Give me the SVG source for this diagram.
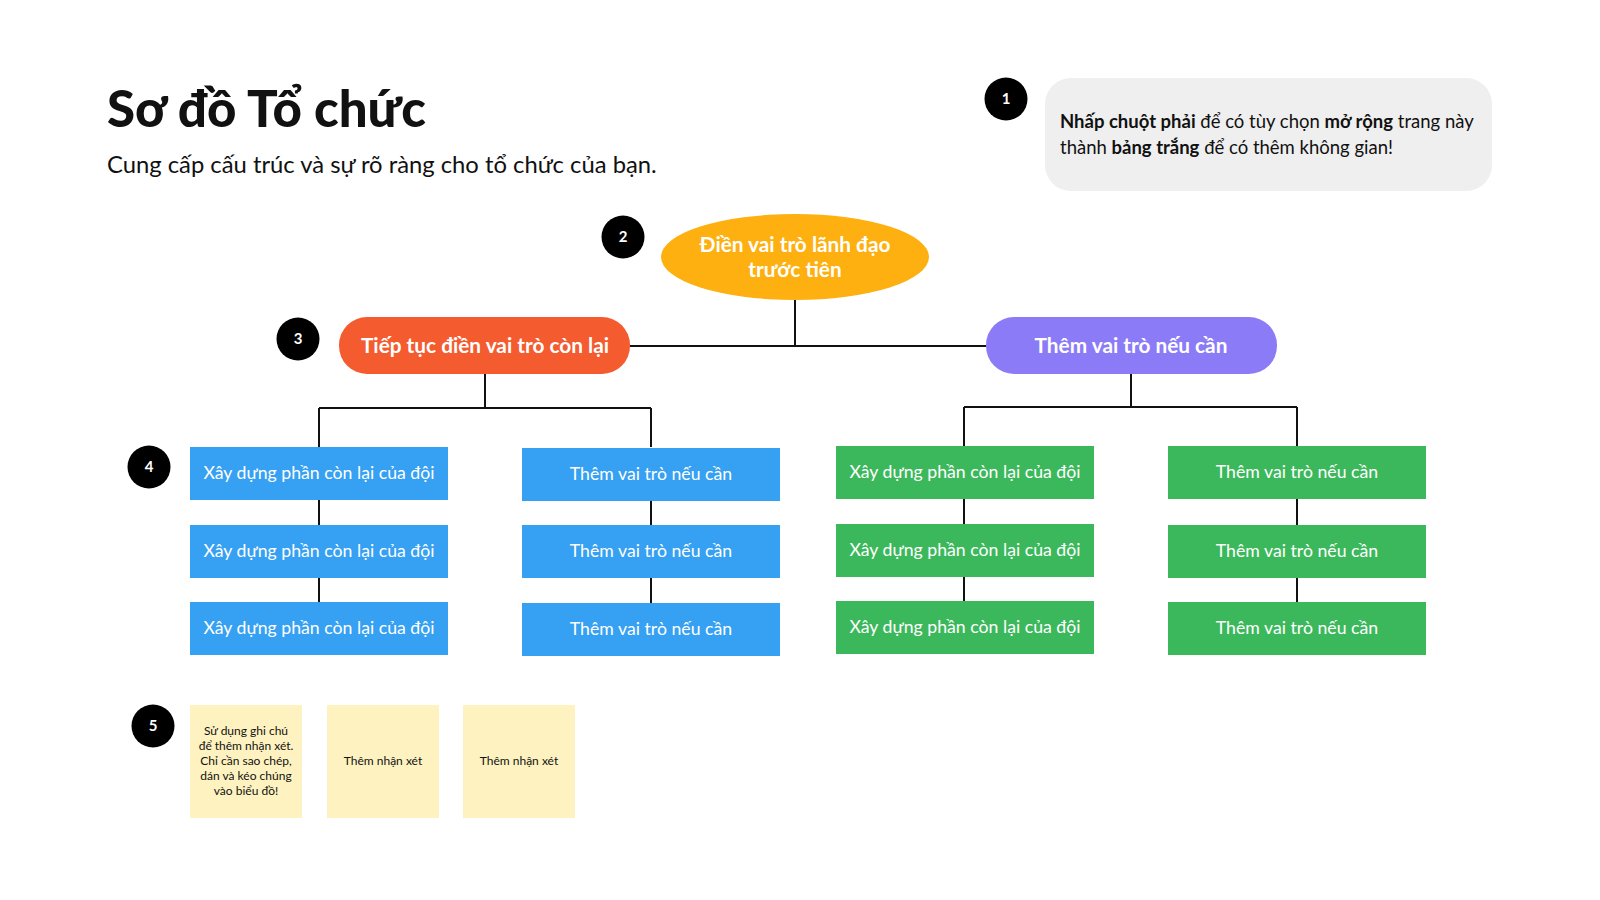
<svg xmlns="http://www.w3.org/2000/svg" width="1600" height="900" viewBox="0 0 1600 900">
<style>
text{font-family:Lato,"Open Sans","Noto Sans",sans-serif}
.badge circle{fill:#000}
.badge text{fill:#fff;font-weight:bold;font-size:15px;text-anchor:middle}
.conn{stroke:#111;stroke-width:2;fill:none}
.blue{fill:#36A0F2}
.green{fill:#3CB85C}
.box text{fill:#fff;font-size:17.7px;text-anchor:middle}
.note rect{fill:#FEF3C0}
.note text{fill:#111;font-size:12px;text-anchor:middle}
.hd{fill:#fff;font-weight:bold;font-size:20.8px;text-anchor:middle}
</style>
<rect width="1600" height="900" fill="#fff"/>
<g id="title">
<text x="107" y="127" font-size="51" font-weight="900" fill="#111">Sơ đồ Tổ chức</text>
<text x="107" y="173" font-size="23.8" fill="#111">Cung cấp cấu trúc và sự rõ ràng cho tổ chức của bạn.</text>
</g>
<g id="info">
<rect x="1045" y="78" width="447" height="113" rx="26" fill="#EFEFEF"/>
<text x="1060" y="128" font-size="18.5" fill="#111"><tspan font-weight="bold">Nhấp chuột phải</tspan> để có tùy chọn <tspan font-weight="bold">mở rộng</tspan> trang này</text>
<text x="1060" y="154" font-size="18.5" fill="#111">thành <tspan font-weight="bold">bảng trắng</tspan> để có thêm không gian!</text>
</g>
<g id="badges" class="badge">
<circle cx="1006" cy="99" r="21.5"/><text x="1006" y="104">1</text>
<circle cx="623" cy="237" r="21.5"/><text x="623" y="242">2</text>
<circle cx="298" cy="339" r="21.5"/><text x="298" y="344">3</text>
<circle cx="149" cy="467" r="21.5"/><text x="149" y="472">4</text>
<circle cx="153" cy="726" r="21.5"/><text x="153" y="731">5</text>
</g>
<g id="connectors" class="conn">
<path d="M795 300V346M630 346H986"/>
<path d="M485 374V408M319 408H651M319 408V447M651 408V447"/>
<path d="M1131 374V407M964 407H1297M964 407V446M1297 407V446"/>
<path d="M319 499V525M319 578V602"/>
<path d="M651 500V525M651 578V603"/>
<path d="M964 499V524M964 577V601"/>
<path d="M1297 499V525M1297 577V602"/>
</g>
<g id="leader">
<ellipse cx="795" cy="257" rx="134" ry="43" fill="#FDB00F"/>
<text class="hd" x="795" y="252">Điền vai trò lãnh đạo</text>
<text class="hd" x="795" y="277">trước tiên</text>
</g>
<g id="role-left">
<rect x="339" y="317" width="291" height="57" rx="28" fill="#F45B2F"/>
<text class="hd" x="485" y="353">Tiếp tục điền vai trò còn lại</text>
</g>
<g id="role-right">
<rect x="986" y="317" width="291" height="57" rx="28" fill="#8B7BF7"/>
<text class="hd" x="1131" y="353">Thêm vai trò nếu cần</text>
</g>
<g id="b1" class="box"><rect class="blue" x="190" y="447" width="258" height="53"/><text x="319" y="479">Xây dựng phần còn lại của đội</text></g>
<g id="b2" class="box"><rect class="blue" x="190" y="525" width="258" height="53"/><text x="319" y="557">Xây dựng phần còn lại của đội</text></g>
<g id="b3" class="box"><rect class="blue" x="190" y="602" width="258" height="53"/><text x="319" y="634">Xây dựng phần còn lại của đội</text></g>
<g id="b4" class="box"><rect class="blue" x="522" y="448" width="258" height="53"/><text x="651" y="480">Thêm vai trò nếu cần</text></g>
<g id="b5" class="box"><rect class="blue" x="522" y="525" width="258" height="53"/><text x="651" y="557">Thêm vai trò nếu cần</text></g>
<g id="b6" class="box"><rect class="blue" x="522" y="603" width="258" height="53"/><text x="651" y="635">Thêm vai trò nếu cần</text></g>
<g id="g1" class="box"><rect class="green" x="836" y="446" width="258" height="53"/><text x="965" y="478">Xây dựng phần còn lại của đội</text></g>
<g id="g2" class="box"><rect class="green" x="836" y="524" width="258" height="53"/><text x="965" y="556">Xây dựng phần còn lại của đội</text></g>
<g id="g3" class="box"><rect class="green" x="836" y="601" width="258" height="53"/><text x="965" y="633">Xây dựng phần còn lại của đội</text></g>
<g id="g4" class="box"><rect class="green" x="1168" y="446" width="258" height="53"/><text x="1297" y="478">Thêm vai trò nếu cần</text></g>
<g id="g5" class="box"><rect class="green" x="1168" y="525" width="258" height="53"/><text x="1297" y="557">Thêm vai trò nếu cần</text></g>
<g id="g6" class="box"><rect class="green" x="1168" y="602" width="258" height="53"/><text x="1297" y="634">Thêm vai trò nếu cần</text></g>
<g id="n1" class="note"><rect x="190" y="705" width="112" height="113"/>
<text x="246" y="735">Sử dụng ghi chú</text>
<text x="246" y="750">để thêm nhận xét.</text>
<text x="246" y="765">Chỉ cần sao chép,</text>
<text x="246" y="780">dán và kéo chúng</text>
<text x="246" y="795">vào biểu đồ!</text>
</g>
<g id="n2" class="note"><rect x="327" y="705" width="112" height="113"/><text x="383" y="765">Thêm nhận xét</text></g>
<g id="n3" class="note"><rect x="463" y="705" width="112" height="113"/><text x="519" y="765">Thêm nhận xét</text></g>
</svg>
